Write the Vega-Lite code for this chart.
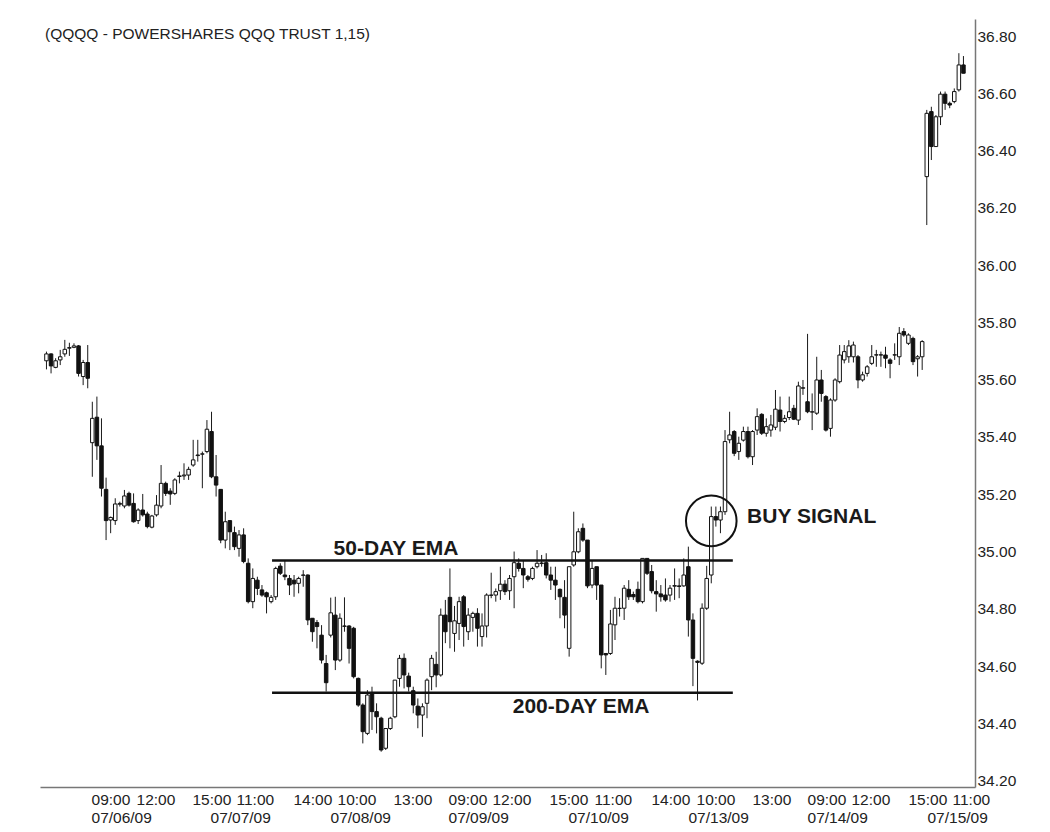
{
  "$schema": "https://vega.github.io/schema/vega-lite/v6.json",
  "width": 935,
  "height": 768,
  "autosize": {"type": "none"},
  "padding": {"left": 40, "top": 19, "right": 75, "bottom": 45},
  "background": "white",
  "config": {"view": {"stroke": null}, "font": "Liberation Sans"},
  "datasets": {
    "candles": [
      {"t":-10,"o":35.666,"h":35.698,"l":35.636,"c":35.690},
      {"t":-9,"o":35.690,"h":35.692,"l":35.622,"c":35.648},
      {"t":-8,"o":35.643,"h":35.675,"l":35.640,"c":35.666},
      {"t":-7,"o":35.669,"h":35.704,"l":35.651,"c":35.680},
      {"t":-6,"o":35.690,"h":35.739,"l":35.680,"c":35.706},
      {"t":-5,"o":35.710,"h":35.729,"l":35.683,"c":35.712},
      {"t":-4,"o":35.713,"h":35.727,"l":35.710,"c":35.718},
      {"t":-3,"o":35.718,"h":35.721,"l":35.611,"c":35.622},
      {"t":-2,"o":35.611,"h":35.669,"l":35.581,"c":35.660},
      {"t":-1,"o":35.660,"h":35.721,"l":35.570,"c":35.605},
      {"t":0,"o":35.380,"h":35.523,"l":35.261,"c":35.465},
      {"t":1,"o":35.469,"h":35.541,"l":35.320,"c":35.369},
      {"t":2,"o":35.369,"h":35.465,"l":35.192,"c":35.221},
      {"t":3,"o":35.217,"h":35.258,"l":35.040,"c":35.108},
      {"t":4,"o":35.110,"h":35.122,"l":35.064,"c":35.119},
      {"t":5,"o":35.108,"h":35.186,"l":35.093,"c":35.166},
      {"t":6,"o":35.165,"h":35.174,"l":35.157,"c":35.168},
      {"t":7,"o":35.159,"h":35.215,"l":35.151,"c":35.194},
      {"t":8,"o":35.203,"h":35.209,"l":35.157,"c":35.162},
      {"t":9,"o":35.168,"h":35.203,"l":35.101,"c":35.104},
      {"t":10,"o":35.108,"h":35.151,"l":35.096,"c":35.145},
      {"t":11,"o":35.145,"h":35.201,"l":35.122,"c":35.128},
      {"t":12,"o":35.131,"h":35.139,"l":35.081,"c":35.087},
      {"t":13,"o":35.085,"h":35.128,"l":35.081,"c":35.124},
      {"t":14,"o":35.128,"h":35.197,"l":35.122,"c":35.162},
      {"t":15,"o":35.159,"h":35.302,"l":35.151,"c":35.238},
      {"t":16,"o":35.238,"h":35.244,"l":35.194,"c":35.203},
      {"t":17,"o":35.211,"h":35.221,"l":35.163,"c":35.201},
      {"t":18,"o":35.203,"h":35.256,"l":35.197,"c":35.250},
      {"t":19,"o":35.262,"h":35.279,"l":35.238,"c":35.264},
      {"t":20,"o":35.264,"h":35.308,"l":35.250,"c":35.267},
      {"t":21,"o":35.267,"h":35.296,"l":35.250,"c":35.287},
      {"t":22,"o":35.302,"h":35.390,"l":35.296,"c":35.320},
      {"t":23,"o":35.335,"h":35.390,"l":35.314,"c":35.337},
      {"t":24,"o":35.340,"h":35.349,"l":35.221,"c":35.341},
      {"t":25,"o":35.349,"h":35.459,"l":35.343,"c":35.427},
      {"t":26,"o":35.419,"h":35.488,"l":35.256,"c":35.261},
      {"t":27,"o":35.261,"h":35.337,"l":35.192,"c":35.232},
      {"t":28,"o":35.217,"h":35.217,"l":35.029,"c":35.040},
      {"t":29,"o":35.040,"h":35.139,"l":35.011,"c":35.104},
      {"t":30,"o":35.108,"h":35.108,"l":35.005,"c":35.069},
      {"t":31,"o":35.066,"h":35.087,"l":35.005,"c":35.017},
      {"t":32,"o":35.011,"h":35.075,"l":34.982,"c":35.058},
      {"t":33,"o":35.058,"h":35.081,"l":34.959,"c":34.965},
      {"t":34,"o":34.959,"h":34.976,"l":34.819,"c":34.825},
      {"t":35,"o":34.825,"h":34.941,"l":34.802,"c":34.906},
      {"t":36,"o":34.900,"h":34.912,"l":34.848,"c":34.871},
      {"t":37,"o":34.866,"h":34.883,"l":34.842,"c":34.848},
      {"t":38,"o":34.856,"h":34.860,"l":34.784,"c":34.842},
      {"t":39,"o":34.825,"h":34.848,"l":34.819,"c":34.840},
      {"t":40,"o":34.842,"h":34.947,"l":34.831,"c":34.941},
      {"t":41,"o":34.949,"h":34.959,"l":34.918,"c":34.924},
      {"t":42,"o":34.918,"h":34.968,"l":34.900,"c":34.912},
      {"t":43,"o":34.906,"h":34.918,"l":34.848,"c":34.883},
      {"t":44,"o":34.900,"h":34.918,"l":34.842,"c":34.887},
      {"t":45,"o":34.889,"h":34.912,"l":34.854,"c":34.906},
      {"t":46,"o":34.917,"h":34.935,"l":34.877,"c":34.918},
      {"t":47,"o":34.918,"h":34.920,"l":34.743,"c":34.761},
      {"t":48,"o":34.767,"h":34.767,"l":34.685,"c":34.720},
      {"t":49,"o":34.752,"h":34.761,"l":34.662,"c":34.738},
      {"t":50,"o":34.708,"h":34.743,"l":34.609,"c":34.621},
      {"t":51,"o":34.609,"h":34.639,"l":34.511,"c":34.542},
      {"t":52,"o":34.708,"h":34.839,"l":34.700,"c":34.786},
      {"t":53,"o":34.778,"h":34.842,"l":34.586,"c":34.621},
      {"t":54,"o":34.621,"h":34.784,"l":34.615,"c":34.767},
      {"t":55,"o":34.740,"h":34.840,"l":34.720,"c":34.739},
      {"t":56,"o":34.740,"h":34.743,"l":34.609,"c":34.662},
      {"t":57,"o":34.732,"h":34.737,"l":34.557,"c":34.563},
      {"t":58,"o":34.557,"h":34.560,"l":34.458,"c":34.464},
      {"t":59,"o":34.464,"h":34.470,"l":34.330,"c":34.371},
      {"t":60,"o":34.365,"h":34.516,"l":34.359,"c":34.499},
      {"t":61,"o":34.505,"h":34.528,"l":34.377,"c":34.441},
      {"t":62,"o":34.441,"h":34.470,"l":34.365,"c":34.423},
      {"t":63,"o":34.418,"h":34.423,"l":34.301,"c":34.307},
      {"t":64,"o":34.313,"h":34.382,"l":34.307,"c":34.382},
      {"t":65,"o":34.382,"h":34.423,"l":34.377,"c":34.418},
      {"t":66,"o":34.423,"h":34.551,"l":34.418,"c":34.551},
      {"t":67,"o":34.557,"h":34.639,"l":34.528,"c":34.627},
      {"t":68,"o":34.627,"h":34.644,"l":34.522,"c":34.569},
      {"t":69,"o":34.565,"h":34.577,"l":34.511,"c":34.528},
      {"t":70,"o":34.514,"h":34.528,"l":34.435,"c":34.464},
      {"t":71,"o":34.460,"h":34.487,"l":34.383,"c":34.429},
      {"t":72,"o":34.429,"h":34.470,"l":34.353,"c":34.458},
      {"t":73,"o":34.470,"h":34.557,"l":34.418,"c":34.551},
      {"t":74,"o":34.563,"h":34.639,"l":34.516,"c":34.627},
      {"t":75,"o":34.606,"h":34.650,"l":34.526,"c":34.569},
      {"t":76,"o":34.569,"h":34.801,"l":34.563,"c":34.778},
      {"t":77,"o":34.778,"h":34.831,"l":34.680,"c":34.720},
      {"t":78,"o":34.840,"h":34.941,"l":34.662,"c":34.755},
      {"t":79,"o":34.714,"h":34.810,"l":34.650,"c":34.758},
      {"t":80,"o":34.749,"h":34.842,"l":34.691,"c":34.825},
      {"t":81,"o":34.842,"h":34.848,"l":34.668,"c":34.738},
      {"t":82,"o":34.720,"h":34.802,"l":34.691,"c":34.778},
      {"t":83,"o":34.770,"h":34.790,"l":34.720,"c":34.784},
      {"t":84,"o":34.784,"h":34.802,"l":34.668,"c":34.732},
      {"t":85,"o":34.703,"h":34.784,"l":34.668,"c":34.740},
      {"t":86,"o":34.740,"h":34.854,"l":34.700,"c":34.848},
      {"t":87,"o":34.847,"h":34.926,"l":34.837,"c":34.848},
      {"t":88,"o":34.848,"h":34.871,"l":34.825,"c":34.860},
      {"t":89,"o":34.863,"h":34.947,"l":34.831,"c":34.886},
      {"t":90,"o":34.886,"h":34.900,"l":34.848,"c":34.860},
      {"t":91,"o":34.863,"h":34.918,"l":34.831,"c":34.906},
      {"t":92,"o":34.912,"h":35.000,"l":34.802,"c":34.961},
      {"t":93,"o":34.959,"h":34.976,"l":34.930,"c":34.941},
      {"t":94,"o":34.941,"h":34.970,"l":34.872,"c":34.918},
      {"t":95,"o":34.912,"h":34.918,"l":34.895,"c":34.903},
      {"t":96,"o":34.906,"h":34.947,"l":34.900,"c":34.941},
      {"t":97,"o":34.947,"h":35.005,"l":34.941,"c":34.959},
      {"t":98,"o":34.958,"h":34.988,"l":34.947,"c":34.960},
      {"t":99,"o":34.961,"h":34.994,"l":34.906,"c":34.918},
      {"t":100,"o":34.918,"h":34.947,"l":34.866,"c":34.900},
      {"t":101,"o":34.900,"h":34.947,"l":34.831,"c":34.883},
      {"t":102,"o":34.868,"h":34.871,"l":34.767,"c":34.842},
      {"t":103,"o":34.840,"h":34.900,"l":34.732,"c":34.778},
      {"t":104,"o":34.662,"h":34.947,"l":34.633,"c":34.947},
      {"t":105,"o":34.953,"h":35.139,"l":34.947,"c":34.999},
      {"t":106,"o":34.999,"h":35.081,"l":34.994,"c":35.069},
      {"t":107,"o":35.081,"h":35.098,"l":35.034,"c":35.040},
      {"t":108,"o":35.040,"h":35.040,"l":34.872,"c":34.880},
      {"t":109,"o":34.883,"h":34.970,"l":34.872,"c":34.941},
      {"t":110,"o":34.947,"h":34.947,"l":34.831,"c":34.883},
      {"t":111,"o":34.883,"h":34.883,"l":34.592,"c":34.639},
      {"t":112,"o":34.644,"h":34.645,"l":34.569,"c":34.639},
      {"t":113,"o":34.644,"h":34.796,"l":34.639,"c":34.747},
      {"t":114,"o":34.744,"h":34.842,"l":34.691,"c":34.802},
      {"t":115,"o":34.801,"h":34.837,"l":34.773,"c":34.802},
      {"t":116,"o":34.802,"h":34.883,"l":34.761,"c":34.872},
      {"t":117,"o":34.868,"h":34.900,"l":34.831,"c":34.842},
      {"t":118,"o":34.850,"h":34.860,"l":34.831,"c":34.842},
      {"t":119,"o":34.868,"h":34.895,"l":34.819,"c":34.825},
      {"t":120,"o":34.825,"h":34.976,"l":34.819,"c":34.976},
      {"t":121,"o":34.976,"h":34.976,"l":34.918,"c":34.924},
      {"t":122,"o":34.930,"h":34.953,"l":34.854,"c":34.863},
      {"t":123,"o":34.860,"h":34.900,"l":34.790,"c":34.852},
      {"t":124,"o":34.852,"h":34.883,"l":34.825,"c":34.842},
      {"t":125,"o":34.848,"h":34.906,"l":34.825,"c":34.831},
      {"t":126,"o":34.848,"h":34.883,"l":34.825,"c":34.872},
      {"t":127,"o":34.879,"h":34.941,"l":34.831,"c":34.881},
      {"t":128,"o":34.880,"h":34.906,"l":34.837,"c":34.878},
      {"t":129,"o":34.880,"h":34.976,"l":34.877,"c":34.918},
      {"t":130,"o":34.947,"h":35.017,"l":34.703,"c":34.761},
      {"t":131,"o":34.761,"h":34.784,"l":34.530,"c":34.627},
      {"t":132,"o":34.617,"h":34.620,"l":34.480,"c":34.613},
      {"t":133,"o":34.610,"h":34.819,"l":34.604,"c":34.802},
      {"t":134,"o":34.802,"h":34.950,"l":34.796,"c":34.906},
      {"t":135,"o":34.918,"h":35.157,"l":34.889,"c":35.122},
      {"t":136,"o":35.122,"h":35.157,"l":35.087,"c":35.110},
      {"t":137,"o":35.110,"h":35.157,"l":35.064,"c":35.139},
      {"t":138,"o":35.139,"h":35.424,"l":35.128,"c":35.384},
      {"t":139,"o":35.390,"h":35.488,"l":35.378,"c":35.407},
      {"t":140,"o":35.419,"h":35.424,"l":35.333,"c":35.343},
      {"t":141,"o":35.349,"h":35.401,"l":35.320,"c":35.378},
      {"t":142,"o":35.389,"h":35.436,"l":35.384,"c":35.419},
      {"t":143,"o":35.419,"h":35.436,"l":35.325,"c":35.331},
      {"t":144,"o":35.331,"h":35.424,"l":35.302,"c":35.419},
      {"t":145,"o":35.424,"h":35.500,"l":35.407,"c":35.471},
      {"t":146,"o":35.479,"h":35.483,"l":35.407,"c":35.413},
      {"t":147,"o":35.413,"h":35.465,"l":35.401,"c":35.436},
      {"t":148,"o":35.424,"h":35.477,"l":35.401,"c":35.442},
      {"t":149,"o":35.434,"h":35.564,"l":35.424,"c":35.497},
      {"t":150,"o":35.494,"h":35.541,"l":35.419,"c":35.454},
      {"t":151,"o":35.454,"h":35.477,"l":35.448,"c":35.465},
      {"t":152,"o":35.468,"h":35.541,"l":35.459,"c":35.488},
      {"t":153,"o":35.500,"h":35.512,"l":35.459,"c":35.462},
      {"t":154,"o":35.459,"h":35.593,"l":35.442,"c":35.578},
      {"t":155,"o":35.570,"h":35.599,"l":35.547,"c":35.572},
      {"t":156,"o":35.523,"h":35.760,"l":35.483,"c":35.488},
      {"t":157,"o":35.487,"h":35.552,"l":35.424,"c":35.488},
      {"t":158,"o":35.483,"h":35.680,"l":35.477,"c":35.599},
      {"t":159,"o":35.599,"h":35.634,"l":35.523,"c":35.552},
      {"t":160,"o":35.541,"h":35.546,"l":35.419,"c":35.424},
      {"t":161,"o":35.430,"h":35.535,"l":35.401,"c":35.529},
      {"t":162,"o":35.529,"h":35.605,"l":35.523,"c":35.599},
      {"t":163,"o":35.593,"h":35.721,"l":35.587,"c":35.686},
      {"t":164,"o":35.669,"h":35.721,"l":35.657,"c":35.698},
      {"t":165,"o":35.680,"h":35.738,"l":35.659,"c":35.718},
      {"t":166,"o":35.680,"h":35.733,"l":35.660,"c":35.721},
      {"t":167,"o":35.680,"h":35.686,"l":35.570,"c":35.599},
      {"t":168,"o":35.599,"h":35.628,"l":35.593,"c":35.617},
      {"t":169,"o":35.622,"h":35.651,"l":35.611,"c":35.645},
      {"t":170,"o":35.657,"h":35.721,"l":35.651,"c":35.680},
      {"t":171,"o":35.686,"h":35.704,"l":35.645,"c":35.687},
      {"t":172,"o":35.686,"h":35.698,"l":35.645,"c":35.687},
      {"t":173,"o":35.686,"h":35.715,"l":35.640,"c":35.675},
      {"t":174,"o":35.669,"h":35.675,"l":35.605,"c":35.657},
      {"t":175,"o":35.686,"h":35.727,"l":35.669,"c":35.687},
      {"t":176,"o":35.680,"h":35.784,"l":35.651,"c":35.762},
      {"t":177,"o":35.768,"h":35.780,"l":35.750,"c":35.756},
      {"t":178,"o":35.727,"h":35.762,"l":35.721,"c":35.756},
      {"t":179,"o":35.744,"h":35.750,"l":35.651,"c":35.663},
      {"t":180,"o":35.673,"h":35.686,"l":35.611,"c":35.680},
      {"t":181,"o":35.680,"h":35.738,"l":35.634,"c":35.733},
      {"t":182,"o":36.309,"h":36.542,"l":36.140,"c":36.530},
      {"t":183,"o":36.536,"h":36.553,"l":36.367,"c":36.414},
      {"t":184,"o":36.414,"h":36.524,"l":36.414,"c":36.518},
      {"t":185,"o":36.518,"h":36.606,"l":36.489,"c":36.597},
      {"t":186,"o":36.597,"h":36.606,"l":36.542,"c":36.565},
      {"t":187,"o":36.565,"h":36.571,"l":36.548,"c":36.559},
      {"t":188,"o":36.571,"h":36.617,"l":36.565,"c":36.606},
      {"t":189,"o":36.612,"h":36.740,"l":36.606,"c":36.699},
      {"t":190,"o":36.699,"h":36.730,"l":36.670,"c":36.670}
    ],
    "emas": [
      {"name":"50-DAY EMA","t1":39.2,"t2":139.7,"p":34.969},
      {"name":"200-DAY EMA","t1":39.2,"t2":139.7,"p":34.507}
    ],
    "notes": [
      {"label":"50-DAY EMA","t":66.24,"p":34.988},
      {"label":"200-DAY EMA","t":106.59,"p":34.436},
      {"label":"BUY SIGNAL","t":156.9,"p":35.0996}
    ],
    "signal": [{"t":135.0,"p":35.107}],
    "heading": [{"label":"(QQQQ - POWERSHARES QQQ TRUST 1,15)","t":-10.32,"p":36.789}]
  },
  "encoding": {
    "x": {
      "type": "quantitative",
      "scale": {"domain": [-11.41, 192.52], "nice": false, "zero": false, "padding": 0},
      "axis": {
        "orient": "bottom", "title": null, "grid": false, "ticks": false,
        "domainColor": "#777777", "domainWidth": 1.5,
        "values": [-0.28, 9.53, 21.74, 25.67, 31.34, 43.77, 51.85, 53.37, 65.58, 77.58, 87.17, 99.61, 103.75, 109.42, 121.85, 129.92, 131.67, 143.88, 155.88, 165.47, 177.9, 182.05, 187.5],
        "labelExpr": "datum.value < 0 ? ['09:00','07/06/09'] : datum.value < 10 ? '12:00' : datum.value < 22 ? '15:00' : datum.value < 26 ? ['','07/07/09'] : datum.value < 32 ? '11:00' : datum.value < 44 ? '14:00' : datum.value < 52 ? ['','07/08/09'] : datum.value < 54 ? '10:00' : datum.value < 66 ? '13:00' : datum.value < 78 ? ['09:00','07/09/09'] : datum.value < 88 ? '12:00' : datum.value < 100 ? '15:00' : datum.value < 104 ? ['','07/10/09'] : datum.value < 110 ? '11:00' : datum.value < 122 ? '14:00' : datum.value < 130 ? ['','07/13/09'] : datum.value < 132 ? '10:00' : datum.value < 144 ? '13:00' : datum.value < 156 ? ['09:00','07/14/09'] : datum.value < 166 ? '12:00' : datum.value < 178 ? '15:00' : datum.value < 183 ? ['','07/15/09'] : '11:00'",
        "labelAlign": "left", "labelFont": "Liberation Sans", "labelFontSize": 15.5,
        "labelColor": "#222222", "labelPadding": 5, "labelLineHeight": 18,
        "labelOverlap": false, "labelBound": false, "labelFlush": false
      }
    },
    "y": {
      "type": "quantitative",
      "scale": {"domain": [34.1778, 36.8594], "nice": false, "zero": false},
      "axis": {
        "orient": "right", "title": null, "grid": false, "ticks": false,
        "domainColor": "#777777", "domainWidth": 1.5,
        "values": [34.2, 34.4, 34.6, 34.8, 35.0, 35.2, 35.4, 35.6, 35.8, 36.0, 36.2, 36.4, 36.6, 36.8],
        "format": ".2f", "labelFont": "Liberation Sans", "labelFontSize": 15.5,
        "labelColor": "#222222", "labelPadding": 2, "labelOverlap": false, "labelBound": false, "labelFlush": false
      }
    }
  },
  "layer": [
    {
      "data": {"name": "candles"},
      "mark": {"type": "rule", "stroke": "#1a1a1a", "strokeWidth": 1},
      "encoding": {
        "x": {"field": "t"},
        "y": {"field": "l"},
        "y2": {"field": "h"}
      }
    },
    {
      "data": {"name": "candles"},
      "mark": {"type": "bar", "width": 3.5, "stroke": "#111111", "strokeWidth": 1},
      "encoding": {
        "x": {"field": "t"},
        "y": {"field": "o"},
        "y2": {"field": "c"},
        "fill": {"condition": {"test": "datum.c >= datum.o", "value": "#ffffff"}, "value": "#111111"}
      }
    },
    {
      "data": {"name": "emas"},
      "mark": {"type": "rule", "stroke": "#111111", "strokeWidth": 2.5},
      "encoding": {
        "x": {"field": "t1"},
        "x2": {"field": "t2"},
        "y": {"field": "p"}
      }
    },
    {
      "data": {"name": "notes"},
      "mark": {"type": "text", "font": "Liberation Sans", "fontWeight": "bold", "fontSize": 21, "align": "center", "baseline": "alphabetic", "fill": "#1a1a1a"},
      "encoding": {
        "x": {"field": "t"},
        "y": {"field": "p"},
        "text": {"field": "label"}
      }
    },
    {
      "data": {"name": "signal"},
      "mark": {"type": "point", "shape": "circle", "filled": false, "size": 2560, "stroke": "#111111", "strokeWidth": 2, "opacity": 1},
      "encoding": {
        "x": {"field": "t"},
        "y": {"field": "p"}
      }
    },
    {
      "data": {"name": "heading"},
      "mark": {"type": "text", "font": "Liberation Sans", "fontSize": 15.5, "align": "left", "baseline": "alphabetic", "fill": "#222222"},
      "encoding": {
        "x": {"field": "t"},
        "y": {"field": "p"},
        "text": {"field": "label"}
      }
    }
  ]
}
